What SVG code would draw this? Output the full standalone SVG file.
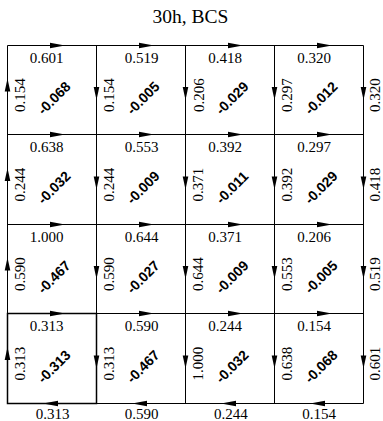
<svg xmlns="http://www.w3.org/2000/svg" xmlns:xlink="http://www.w3.org/1999/xlink" width="383" height="421" viewBox="0 0 383 421">
<style>
.ln{stroke:#000;stroke-width:1;fill:none}
.hl{stroke:#000;stroke-width:1.5;fill:none}
.ah{fill:#000}
.lb{font-family:"Liberation Serif","Times New Roman",serif;font-size:15px;fill:#000;text-anchor:middle}
.dv{font-family:"Liberation Sans",Arial,sans-serif;font-size:14px;font-weight:bold;fill:#000;text-anchor:middle}
.tt{font-family:"Liberation Serif","Times New Roman",serif;font-size:19.5px;fill:#000;text-anchor:middle}
</style>
<defs>
<path id="ahH" class="ah" d="M0,0 L-15,-2.8 L-15,2.8 Z"/>
<path id="ahV" class="ah" d="M0,0 L-13,-2.8 L-13,2.8 Z"/>
</defs>
<rect width="383" height="421" fill="#fff"/>
<text class="tt" x="190.5" y="22.7">30h, BCS</text>
<g id="connectors">
<path class="ln" d="M7.5,45.5H363.5M7.5,134.5H363.5M7.5,224.5H363.5M7.5,313.5H363.5M7.5,403.5H363.5M7.5,45.5V403.5M96.5,45.5V403.5M185.5,45.5V403.5M274.5,45.5V403.5M363.5,45.5V403.5"/>
<rect class="hl" x="7.5" y="313.5" width="89" height="90"/>
<use xlink:href="#ahH" transform="translate(65,45.5)"/>
<use xlink:href="#ahH" transform="translate(154,45.5)"/>
<use xlink:href="#ahH" transform="translate(243,45.5)"/>
<use xlink:href="#ahH" transform="translate(332,45.5)"/>
<use xlink:href="#ahH" transform="translate(65,134.5)"/>
<use xlink:href="#ahH" transform="translate(154,134.5)"/>
<use xlink:href="#ahH" transform="translate(243,134.5)"/>
<use xlink:href="#ahH" transform="translate(332,134.5)"/>
<use xlink:href="#ahH" transform="translate(65,224.5)"/>
<use xlink:href="#ahH" transform="translate(154,224.5)"/>
<use xlink:href="#ahH" transform="translate(243,224.5)"/>
<use xlink:href="#ahH" transform="translate(332,224.5)"/>
<use xlink:href="#ahH" transform="translate(65,313.5)"/>
<use xlink:href="#ahH" transform="translate(154,313.5)"/>
<use xlink:href="#ahH" transform="translate(243,313.5)"/>
<use xlink:href="#ahH" transform="translate(332,313.5)"/>
<use xlink:href="#ahH" transform="translate(43,403.5) rotate(180)"/>
<use xlink:href="#ahH" transform="translate(132,403.5) rotate(180)"/>
<use xlink:href="#ahH" transform="translate(221,403.5) rotate(180)"/>
<use xlink:href="#ahH" transform="translate(310,403.5) rotate(180)"/>
<use xlink:href="#ahV" transform="translate(7.5,78.5) rotate(-90)"/>
<use xlink:href="#ahV" transform="translate(7.5,168) rotate(-90)"/>
<use xlink:href="#ahV" transform="translate(7.5,257.5) rotate(-90)"/>
<use xlink:href="#ahV" transform="translate(7.5,347) rotate(-90)"/>
<use xlink:href="#ahV" transform="translate(96.5,100) rotate(90)"/>
<use xlink:href="#ahV" transform="translate(185.5,100) rotate(90)"/>
<use xlink:href="#ahV" transform="translate(274.5,100) rotate(90)"/>
<use xlink:href="#ahV" transform="translate(363.5,100) rotate(90)"/>
<use xlink:href="#ahV" transform="translate(96.5,189.5) rotate(90)"/>
<use xlink:href="#ahV" transform="translate(185.5,189.5) rotate(90)"/>
<use xlink:href="#ahV" transform="translate(274.5,189.5) rotate(90)"/>
<use xlink:href="#ahV" transform="translate(363.5,189.5) rotate(90)"/>
<use xlink:href="#ahV" transform="translate(96.5,279) rotate(90)"/>
<use xlink:href="#ahV" transform="translate(185.5,279) rotate(90)"/>
<use xlink:href="#ahV" transform="translate(274.5,279) rotate(90)"/>
<use xlink:href="#ahV" transform="translate(363.5,279) rotate(90)"/>
<use xlink:href="#ahV" transform="translate(96.5,368.5) rotate(90)"/>
<use xlink:href="#ahV" transform="translate(185.5,368.5) rotate(90)"/>
<use xlink:href="#ahV" transform="translate(274.5,368.5) rotate(90)"/>
<use xlink:href="#ahV" transform="translate(363.5,368.5) rotate(90)"/>
<text class="lb" x="46.7" y="63">0.601</text>
<text class="lb" x="141.7" y="63">0.519</text>
<text class="lb" x="225" y="63">0.418</text>
<text class="lb" x="314.2" y="63">0.320</text>
<text class="lb" x="46.7" y="152.3">0.638</text>
<text class="lb" x="141.7" y="152.3">0.553</text>
<text class="lb" x="225" y="152.3">0.392</text>
<text class="lb" x="314.2" y="152.3">0.297</text>
<text class="lb" x="46.7" y="241.5">1.000</text>
<text class="lb" x="141.7" y="241.5">0.644</text>
<text class="lb" x="225" y="241.5">0.371</text>
<text class="lb" x="314.2" y="241.5">0.206</text>
<text class="lb" x="46.7" y="331">0.313</text>
<text class="lb" x="141.7" y="331">0.590</text>
<text class="lb" x="225" y="331">0.244</text>
<text class="lb" x="314.2" y="331">0.154</text>
<text class="lb" x="52.5" y="418.5">0.313</text>
<text class="lb" x="141.7" y="418.5">0.590</text>
<text class="lb" x="230.8" y="418.5">0.244</text>
<text class="lb" x="319" y="418.5">0.154</text>
<text class="lb" transform="translate(25,95) rotate(-90)">0.154</text>
<text class="lb" transform="translate(114,95) rotate(-90)">0.154</text>
<text class="lb" transform="translate(204,95) rotate(-90)">0.206</text>
<text class="lb" transform="translate(291.5,95) rotate(-90)">0.297</text>
<text class="lb" transform="translate(380.3,95) rotate(-90)">0.320</text>
<text class="lb" transform="translate(25,184.5) rotate(-90)">0.244</text>
<text class="lb" transform="translate(114,184.5) rotate(-90)">0.244</text>
<text class="lb" transform="translate(203,184.5) rotate(-90)">0.371</text>
<text class="lb" transform="translate(291.5,184.5) rotate(-90)">0.392</text>
<text class="lb" transform="translate(380.3,184.5) rotate(-90)">0.418</text>
<text class="lb" transform="translate(25,274) rotate(-90)">0.590</text>
<text class="lb" transform="translate(114,274) rotate(-90)">0.590</text>
<text class="lb" transform="translate(203,274) rotate(-90)">0.644</text>
<text class="lb" transform="translate(291.5,274) rotate(-90)">0.553</text>
<text class="lb" transform="translate(380.3,274) rotate(-90)">0.519</text>
<text class="lb" transform="translate(25,363.5) rotate(-90)">0.313</text>
<text class="lb" transform="translate(114,363.5) rotate(-90)">0.313</text>
<text class="lb" transform="translate(203,363.5) rotate(-90)">1.000</text>
<text class="lb" transform="translate(291.5,363.5) rotate(-90)">0.638</text>
<text class="lb" transform="translate(380.3,363.5) rotate(-90)">0.601</text>
</g>
<g id="cell-1-1"><text class="dv" transform="translate(57.5,101.5) rotate(-45)">-0.068</text></g>
<g id="cell-1-2"><text class="dv" transform="translate(146.5,101.5) rotate(-45)">-0.005</text></g>
<g id="cell-1-3"><text class="dv" transform="translate(235.5,101.5) rotate(-45)">-0.029</text></g>
<g id="cell-1-4"><text class="dv" transform="translate(324.5,101.5) rotate(-45)">-0.012</text></g>
<g id="cell-2-1"><text class="dv" transform="translate(57.5,191) rotate(-45)">-0.032</text></g>
<g id="cell-2-2"><text class="dv" transform="translate(146.5,191) rotate(-45)">-0.009</text></g>
<g id="cell-2-3"><text class="dv" transform="translate(235.5,191) rotate(-45)">-0.011</text></g>
<g id="cell-2-4"><text class="dv" transform="translate(324.5,191) rotate(-45)">-0.029</text></g>
<g id="cell-3-1"><text class="dv" transform="translate(57.5,280.5) rotate(-45)">-0.467</text></g>
<g id="cell-3-2"><text class="dv" transform="translate(146.5,280.5) rotate(-45)">-0.027</text></g>
<g id="cell-3-3"><text class="dv" transform="translate(235.5,280.5) rotate(-45)">-0.009</text></g>
<g id="cell-3-4"><text class="dv" transform="translate(324.5,280.5) rotate(-45)">-0.005</text></g>
<g id="cell-4-1"><text class="dv" transform="translate(57.5,370) rotate(-45)">-0.313</text></g>
<g id="cell-4-2"><text class="dv" transform="translate(146.5,370) rotate(-45)">-0.467</text></g>
<g id="cell-4-3"><text class="dv" transform="translate(235.5,370) rotate(-45)">-0.032</text></g>
<g id="cell-4-4"><text class="dv" transform="translate(324.5,370) rotate(-45)">-0.068</text></g>
</svg>
